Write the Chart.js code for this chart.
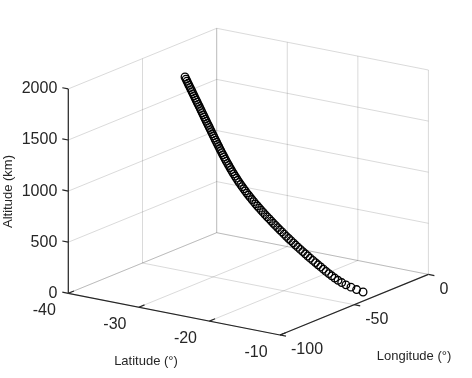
<!DOCTYPE html>
<html>
<head>
<meta charset="utf-8">
<script src="https://cdn.jsdelivr.net/npm/chart.js@4.4.0/dist/chart.umd.min.js"></script>
<style>
  html, body { margin: 0; padding: 0; background: #fff; }
  #wrap { width: 472px; height: 378px; }
</style>
</head>
<body>
<div id="wrap"><canvas id="myChart" width="472" height="378"></canvas></div>
<script>
// axis ticks
var latTicks = [-40, -30, -20, -10];
var lonTicks = [-100, -50, 0];
var altTicks = [0, 500, 1000, 1500, 2000];

// trajectory samples
var altitude = [
  2000,1980,1960,1940,1920,1900,1880,1860,1840,1820,
  1800,1780,1760,1740,1720,1700,1680,1660,1640,1620,
  1600,1580,1560,1540,1520,1500,1480,1460,1440,1420,
  1400,1380,1360,1340,1320,1300,1280,1260,1240,1220,
  1200,1180,1160,1140,1120,1100,1080,1060,1040,1020,
  1000,980,960,940,920,900,880,860,840,820,
  800,780,760,740,720,700,680,660,640,620,
  600,580,560,540,520,500,480,460,440,420,
  400,380,360,340,320,300,280,260,240,220,
  200,180,160,140,120,100,80,60,40,20,
  0
];
var latitude = [
  -31.63,-31.52,-31.41,-31.30,-31.19,-31.07,-30.96,-30.85,-30.74,-30.63,
  -30.52,-30.41,-30.30,-30.19,-30.07,-29.96,-29.85,-29.74,-29.63,-29.52,
  -29.41,-29.30,-29.19,-29.07,-28.96,-28.85,-28.74,-28.63,-28.51,-28.40,
  -28.29,-28.17,-28.06,-27.94,-27.83,-27.71,-27.59,-27.47,-27.35,-27.23,
  -27.11,-26.97,-26.84,-26.71,-26.58,-26.44,-26.30,-26.15,-26.00,-25.85,
  -25.70,-25.53,-25.37,-25.20,-25.03,-24.86,-24.67,-24.48,-24.29,-24.10,
  -23.91,-23.70,-23.49,-23.28,-23.07,-22.86,-22.63,-22.40,-22.18,-21.95,
  -21.72,-21.49,-21.25,-21.01,-20.77,-20.53,-20.28,-20.03,-19.77,-19.52,
  -19.27,-19.00,-18.73,-18.46,-18.19,-17.92,-17.63,-17.34,-17.06,-16.77,
  -16.48,-16.19,-15.88,-15.56,-15.23,-14.87,-14.47,-14.01,-13.46,-12.84,
  -12.13
];
var longitude = [
  -61.16,-61.00,-60.85,-60.69,-60.54,-60.38,-60.23,-60.07,-59.92,-59.76,
  -59.61,-59.45,-59.30,-59.14,-58.98,-58.83,-58.67,-58.52,-58.36,-58.21,
  -58.05,-57.90,-57.74,-57.59,-57.43,-57.28,-57.12,-56.96,-56.80,-56.64,
  -56.49,-56.32,-56.16,-56.00,-55.84,-55.68,-55.51,-55.34,-55.17,-55.01,
  -54.84,-54.65,-54.46,-54.28,-54.09,-53.91,-53.70,-53.49,-53.29,-53.08,
  -52.87,-52.64,-52.40,-52.17,-51.94,-51.70,-51.43,-51.17,-50.90,-50.63,
  -50.37,-50.07,-49.78,-49.48,-49.19,-48.89,-48.58,-48.26,-47.94,-47.63,
  -47.31,-46.98,-46.65,-46.31,-45.98,-45.65,-45.30,-44.94,-44.59,-44.23,
  -43.88,-43.50,-43.12,-42.75,-42.37,-42.00,-41.59,-41.19,-40.79,-40.38,
  -39.98,-39.57,-39.14,-38.70,-38.23,-37.74,-37.18,-36.52,-35.76,-34.89,
  -33.90
];

// view: pixel position of the box corner (lat min, lon min, alt 0) and
// pixel step per unit along each axis
var W = 472, H = 378;
var view = { ox: 68.3, oy: 293.3, latX: 7.057, latY: 1.39, lonX: 1.484, lonY: -0.606, altY: -0.1022 };
var latMin = latTicks[0], latMax = latTicks[latTicks.length - 1];
var lonMin = lonTicks[0], lonMax = lonTicks[lonTicks.length - 1];
var altMin = altTicks[0], altMax = altTicks[altTicks.length - 1];

function project(lat, lon, alt) {
  var a = lat - latMin, b = lon - lonMin;
  return {
    x: view.ox + a * view.latX + b * view.lonX,
    y: view.oy + a * view.latY + b * view.lonY + alt * view.altY
  };
}

function seg(p, q, color, width) {
  return {
    type: 'scatter', data: [project(p[0], p[1], p[2]), project(q[0], q[1], q[2])],
    showLine: true, borderColor: color, borderWidth: width, pointRadius: 0, order: 5
  };
}

var gridColor = 'rgba(38,38,38,0.17)';
var axisColor = '#262626';
var datasets = [];

// walls and floor
altTicks.forEach(function (z) {
  datasets.push(seg([latMin, lonMin, z], [latMin, lonMax, z], gridColor, 1));
  datasets.push(seg([latMin, lonMax, z], [latMax, lonMax, z], gridColor, 1));
});
lonTicks.forEach(function (lo) {
  datasets.push(seg([latMin, lo, altMin], [latMin, lo, altMax], gridColor, 1));
  datasets.push(seg([latMin, lo, altMin], [latMax, lo, altMin], gridColor, 1));
});
latTicks.forEach(function (la) {
  datasets.push(seg([la, lonMax, altMin], [la, lonMax, altMax], gridColor, 1));
  datasets.push(seg([la, lonMin, altMin], [la, lonMax, altMin], gridColor, 1));
});

// axes
var axes = [];
axes.push(seg([latMin, lonMin, altMin], [latMin, lonMin, altMax], axisColor, 1.2));
axes.push(seg([latMin, lonMin, altMin], [latMax, lonMin, altMin], axisColor, 1.2));
axes.push(seg([latMax, lonMin, altMin], [latMax, lonMax, altMin], axisColor, 1.2));
altTicks.forEach(function (z) {
  axes.push(seg([latMin, lonMin, z], [latMin - 0.85, lonMin, z], axisColor, 1.2));
});
latTicks.forEach(function (la) {
  axes.push(seg([la, lonMin, altMin], [la, lonMin + 3.8, altMin], axisColor, 1.2));
});
lonTicks.forEach(function (lo) {
  axes.push(seg([latMax, lo, altMin], [latMax + 0.85, lo, altMin], axisColor, 1.2));
});
axes.forEach(function (d) { d.order = 3; datasets.push(d); });

// trajectory
var track = [];
for (var i = 0; i < altitude.length; i++) {
  track.push(project(latitude[i], longitude[i], altitude[i]));
}
datasets.push({
  type: 'scatter', data: track, showLine: false,
  pointStyle: 'circle', pointRadius: 3.8, borderWidth: 1.3,
  borderColor: '#000', backgroundColor: 'rgba(0,0,0,0)', order: 1
});

var FONT = '"Liberation Sans", Arial, Helvetica, sans-serif';

var labelsPlugin = {
  id: 'labels3d',
  afterDraw: function (chart) {
    var ctx = chart.ctx, sx = chart.scales.x, sy = chart.scales.y;
    function pix(p) { return [sx.getPixelForValue(p.x), sy.getPixelForValue(p.y)]; }
    ctx.save();
    ctx.fillStyle = '#262626';
    ctx.font = '16px ' + FONT;
    ctx.textBaseline = 'middle';

    ctx.textAlign = 'right';
    altTicks.forEach(function (z) {
      var p = pix(project(latMin, lonMin, z));
      ctx.fillText(String(z), p[0] - 11, p[1]);
    });
    ctx.textAlign = 'center';
    latTicks.forEach(function (la) {
      var p = pix(project(la, lonMin, altMin));
      ctx.fillText(String(la), p[0] - 24, p[1] + 17.5);
    });
    ctx.textAlign = 'left';
    lonTicks.forEach(function (lo) {
      var p = pix(project(latMax, lo, altMin));
      ctx.fillText(String(lo), p[0] + 11, p[1] + 15);
    });

    ctx.font = '13px ' + FONT;
    ctx.textAlign = 'center';
    ctx.fillText('Latitude (°)', 146, 361);
    ctx.fillText('Longitude (°)', 414, 356);
    ctx.translate(8.5, 191.5);
    ctx.rotate(-Math.PI / 2);
    ctx.fillText('Altitude (km)', 0, 0);
    ctx.restore();
  }
};

var ctx = document.getElementById('myChart').getContext('2d');
var myChart = new Chart(ctx, {
  type: 'scatter',
  data: { datasets: datasets },
  options: {
    responsive: false,
    animation: false,
    events: [],
    layout: { padding: 0, autoPadding: false },
    plugins: { legend: { display: false }, tooltip: { enabled: false } },
    scales: {
      x: { type: 'linear', min: 0, max: W, display: false },
      y: { type: 'linear', min: 0, max: H, reverse: true, display: false }
    }
  },
  plugins: [labelsPlugin]
});
</script>
</body>
</html>
